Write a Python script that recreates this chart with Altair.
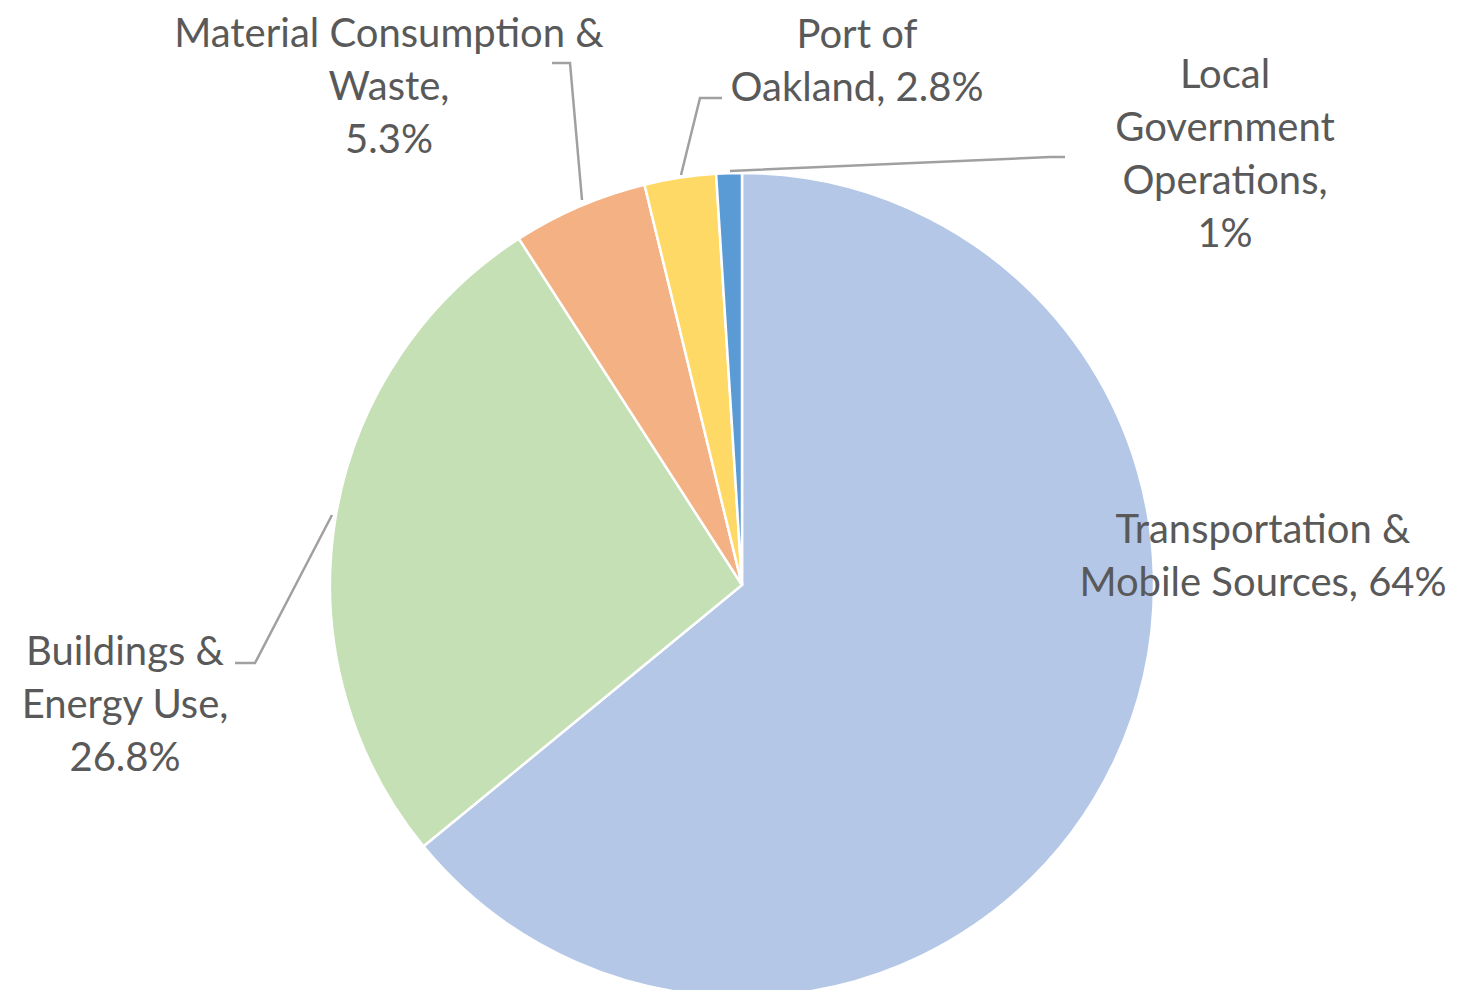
import altair as alt
import pandas as pd

# Slice data (clockwise from 12 o'clock)
categories = ["Transportation & Mobile Sources", "Buildings & Energy Use",
              "Material Consumption & Waste", "Port of Oakland",
              "Local Government Operations"]
shares = [64, 26.8, 5.3, 2.8, 1]
colors = ["#B4C7E7", "#C5E0B4", "#F4B183", "#FFD966", "#5B9BD5"]

# Data labels (text) and their placement
label_texts = ["Transportation &\nMobile Sources, 64%",
               "Buildings &\nEnergy Use,\n26.8%",
               "Material Consumption &\nWaste,\n5.3%",
               "Port of\nOakland, 2.8%",
               "Local\nGovernment\nOperations,\n1%"]
label_x = [1255, 117, 381, 849, 1217]
label_y = [535, 657, 39, 40, 80]

# Leader lines (pixel polylines)
leader_ids = ["b", "b", "b", "m", "m", "m", "p", "p", "p", "l", "l", "l"]
leader_x = [227, 247, 324, 544, 562, 574, 714, 692, 673, 1057, 1042, 722]
leader_y = [655, 655, 507, 55, 55, 192, 90, 90, 167, 149, 149, 163]

df = pd.DataFrame({"category": categories, "share": shares,
                   "idx": list(range(len(categories)))})
labels = pd.DataFrame({"label": label_texts, "tx": label_x, "ty": label_y})
leaders = pd.DataFrame({"line": leader_ids, "px": leader_x, "py": leader_y,
                        "ord": list(range(len(leader_ids)))})

pie = alt.Chart(df).mark_arc(radius=412, stroke="white", strokeWidth=2.5).encode(
    theta=alt.Theta("share:Q", stack=True),
    order=alt.Order("idx:Q"),
    color=alt.Color("category:N", scale=alt.Scale(domain=categories, range=colors),
                    legend=None),
    x=alt.value(734),
    y=alt.value(577),
)

lines = alt.Chart(leaders).mark_line(color="#A0A0A0", strokeWidth=2.5).encode(
    x=alt.X("px:Q", scale=None, axis=None),
    y=alt.Y("py:Q", scale=None, axis=None),
    detail="line:N",
    order="ord:Q",
)

text = alt.Chart(labels).mark_text(
    font="Lato", fontSize=40, color="#595959", align="center",
    baseline="alphabetic", lineBreak="\n", lineHeight=53,
).encode(
    x=alt.X("tx:Q", scale=None, axis=None),
    y=alt.Y("ty:Q", scale=None, axis=None),
    text="label:N",
)

chart = alt.layer(pie, lines, text).properties(
    width=1441, height=982,
    autosize=alt.AutoSizeParams(type="fit", contains="padding"),
    padding=0, background="white",
).configure_view(stroke=None)

chart.save("out.html", embed_options={"renderer": "svg", "actions": False})
